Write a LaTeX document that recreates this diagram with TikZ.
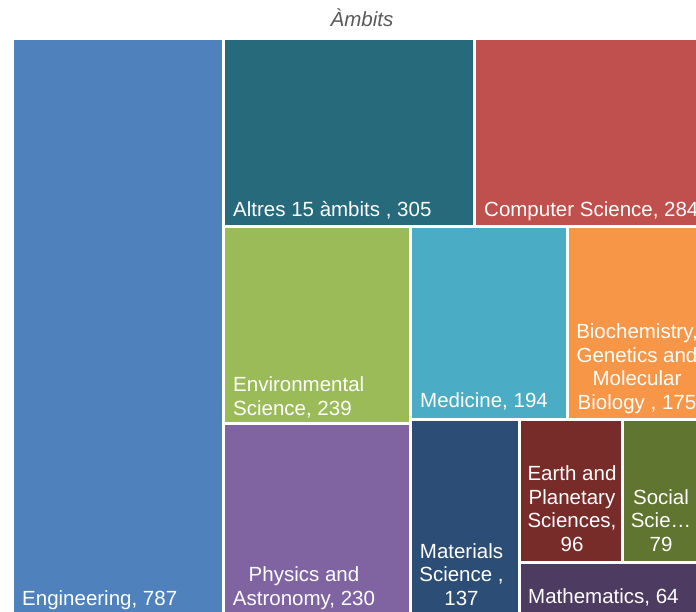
\documentclass[tikz,border=0pt]{standalone}
\usepackage{fontspec}
\setmainfont{Liberation Sans}
\usetikzlibrary{positioning}

\definecolor{engblue}{HTML}{4F81BD}
\definecolor{altteal}{HTML}{276A7C}
\definecolor{compred}{HTML}{C0504D}
\definecolor{envgreen}{HTML}{9BBB59}
\definecolor{medaqua}{HTML}{4BACC6}
\definecolor{bioorange}{HTML}{F79646}
\definecolor{physpurple}{HTML}{8064A2}
\definecolor{matblue}{HTML}{2C4D75}
\definecolor{earthred}{HTML}{772C2A}
\definecolor{socgreen}{HTML}{5F7530}
\definecolor{mathpurple}{HTML}{4D3B62}
\definecolor{titlegrey}{HTML}{595959}

\tikzset{
	cell/.style={draw=white, line width=3pt},
	lbl/.style={text=white, inner sep=0pt, font=\fontsize{20.5}{23.5}\selectfont},
	lblc/.style={lbl, align=center, anchor=base}
}

\begin{document}
\begin{tikzpicture}[x=1pt,y=-1pt]
	\useasboundingbox (0,0) rectangle (696,611);
	\clip (0,0) rectangle (696,611);
	\fill[white] (0,0) rectangle (696,611);
	% cells
	\draw[cell, fill=engblue] (12.5,38.5) rectangle (223.5,620);
	\draw[cell, fill=altteal] (223.5,38.5) rectangle (474.5,226.5);
	\draw[cell, fill=compred] (474.5,38.5) rectangle (710,226.5);
	\draw[cell, fill=envgreen] (223.5,226.5) rectangle (410.5,423.5);
	\draw[cell, fill=physpurple] (223.5,423.5) rectangle (410.5,620);
	\draw[cell, fill=medaqua] (410.5,226.5) rectangle (567.5,419.5);
	\draw[cell, fill=bioorange] (567.5,226.5) rectangle (710,419.5);
	\draw[cell, fill=matblue] (410.5,419.5) rectangle (519.5,620);
	\draw[cell, fill=earthred] (519.5,419.5) rectangle (622.5,562.5);
	\draw[cell, fill=socgreen] (622.5,419.5) rectangle (710,562.5);
	\draw[cell, fill=mathpurple] (519.5,562.5) rectangle (710,620);
	
	% labels (base = last line)
	\node[lbl, anchor=base, text=titlegrey, font=\fontsize{20.5}{23.5}\selectfont\itshape] (title) at (362,26) {Àmbits};
	\node[lbl, anchor=base west] (eng) at (22,605) {Engineering, 787};
	\node[lbl, anchor=base west] (alt) at (233,216) {Altres 15 àmbits , 305};
	\node[lbl, anchor=base west] (comp) at (484,216) {Computer Science, 284};
	\node[lbl, anchor=base west, align=left] (env) at (233,415) {Environmental\\Science, 239};
	\node[lbl, anchor=base west] (med) at (420,407) {Medicine, 194};
	\node[lblc] (bio) at (637,409) {Biochemistry,\\Genetics and\\Molecular\\Biology , 175};
	\node[lblc] (phys) at (304,605) {Physics and\\Astronomy, 230};
	\node[lblc] (mat) at (461.5,605) {Materials\\Science ,\\137};
	\node[lblc] (earth) at (572,551) {Earth and\\Planetary\\Sciences,\\96};
	\node[lblc] (soc) at (661,551) {Social\\Scie…\\79};
	\node[lbl, anchor=base west] (math) at (528,603) {Mathematics, 64};
\end{tikzpicture}
\end{document}
